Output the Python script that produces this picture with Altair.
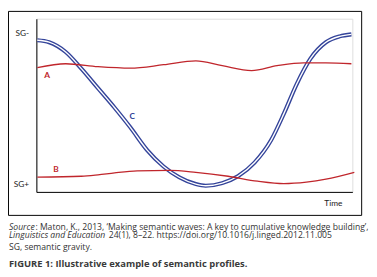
import altair as alt
import pandas as pd

# Profile C (double blue line)
c_x = [1, 13, 30, 46, 63, 80, 96, 113, 130, 146, 163, 173, 190, 206, 223, 240, 253, 266, 280, 296, 310, 322]
c_y = [155, 153, 143, 126, 106, 86, 66, 43, 26, 15, 8, 6.3, 9, 16, 30, 53, 80, 110, 136, 153, 159, 161]
# Profile A (red, high)
a_x = [1, 30, 63, 96, 130, 163, 190, 220, 246, 273, 296, 322]
a_y = [127, 131, 128, 126.5, 130, 134, 129, 124, 129, 132, 132, 131]
# Profile B (red, low)
b_x = [1, 46, 63, 80, 103, 136, 163, 196, 226, 253, 276, 296, 325]
b_y = [15, 16, 17.5, 19.5, 21.5, 22, 20, 16, 11, 8.5, 10, 13, 20]

labels = ["A", "B", "C"]
label_x = [11, 20, 98]
label_y = [119, 23, 78]
label_col = ["#c0262c", "#c0262c", "#2e3f96"]

y_tick_vals = [163, 9]
y_tick_text = ["SG-", "SG+"]

caption = [
    "SG, semantic gravity.",
]

RED = "#c0262c"
BLUE = "#34449a"
FONT = "Lato"
CFONT = "Open Sans"

dfc = pd.DataFrame({"x": c_x, "y": c_y})
dfa = pd.DataFrame({"x": a_x, "y": a_y})
dfb = pd.DataFrame({"x": b_x, "y": b_y})
dfl = pd.DataFrame({"x": label_x, "y": label_y, "t": labels, "c": label_col})

xs = alt.Scale(domain=[0, 323], nice=False, zero=False)
ys = alt.Scale(domain=[0, 177], nice=False, zero=False)

label_expr = "datum.value == 163 ? 'SG-' : (datum.value == 9 ? 'SG+' : '')"

X = alt.X("x:Q", scale=xs, axis=alt.Axis(
    title="Time", ticks=False, labels=False, grid=False, domainColor="black",
    titleFont=FONT, titleFontSize=8.5, titleFontWeight="normal", titleColor="#222",
    titleAnchor="start", titleAlign="center", titleX=303, titleY=11, titleBaseline="middle"))
Y = alt.Y("y:Q", scale=ys, axis=alt.Axis(
    title=None, ticks=False, grid=False, domainColor="black", values=y_tick_vals,
    labelExpr=label_expr, labelFont=FONT, labelFontSize=8.5, labelColor="#222",
    labelPadding=8))

c_outer = alt.Chart(dfc).mark_line(interpolate="monotone", color=BLUE, strokeWidth=4.2).encode(x=X, y=Y)
c_inner = alt.Chart(dfc).mark_line(interpolate="monotone", color="white", strokeWidth=1.4).encode(x="x:Q", y="y:Q")
a_line = alt.Chart(dfa).mark_line(interpolate="monotone", color=RED, strokeWidth=1.3).encode(x="x:Q", y="y:Q")
b_line = alt.Chart(dfb).mark_line(interpolate="monotone", color=RED, strokeWidth=1.3).encode(x="x:Q", y="y:Q")
lbl = alt.Chart(dfl).mark_text(font=FONT, fontSize=8.5, fontWeight="bold", align="center", baseline="middle").encode(
    x="x:Q", y="y:Q", text="t:N", color=alt.Color("c:N", scale=None))

box = alt.Chart(pd.DataFrame({"k": [0]})).mark_rect(fill=None, stroke="black", strokeWidth=1).encode(
    x=alt.value(-28.5), x2=alt.value(332.5), y=alt.value(-7.5), y2=alt.value(201))

def txt(s, x, y, size=8.8, style="normal", weight="normal", color="#333", font=CFONT):
    return alt.Chart(pd.DataFrame({"t": [s]})).mark_text(
        font=font, fontSize=size, fontStyle=style, fontWeight=weight, color=color,
        align="left", baseline="middle").encode(text="t:N", x=alt.value(x), y=alt.value(y))

cap = [
    txt("Source", -28, 212.5, style="italic"),
    txt(": Maton, K., 2013, \u2018Making semantic waves: A key to cumulative knowledge building\u2019,", -1, 212.5),
    txt("Linguistics and Education", -28, 221, style="italic"),
    txt("24(1), 8\u201322. https://doi.org/10.1016/j.linged.2012.11.005", 74, 221),
    txt(caption[0], -28, 233.5),
    txt("FIGURE 1: Illustrative example of semantic profiles.", -28, 251, size=9.6, weight="bold", color="#3a3a3a"),
]

chart = alt.layer(box, c_outer, c_inner, a_line, b_line, lbl, *cap).properties(
    width=323, height=177,
    autosize=alt.AutoSizeParams(type="none"),
    padding={"left": 29, "top": 8, "right": 17, "bottom": 84},
).configure_view(stroke=None).configure(background="white")

chart.save("out.html", embed_options={"renderer": "svg", "actions": False})
